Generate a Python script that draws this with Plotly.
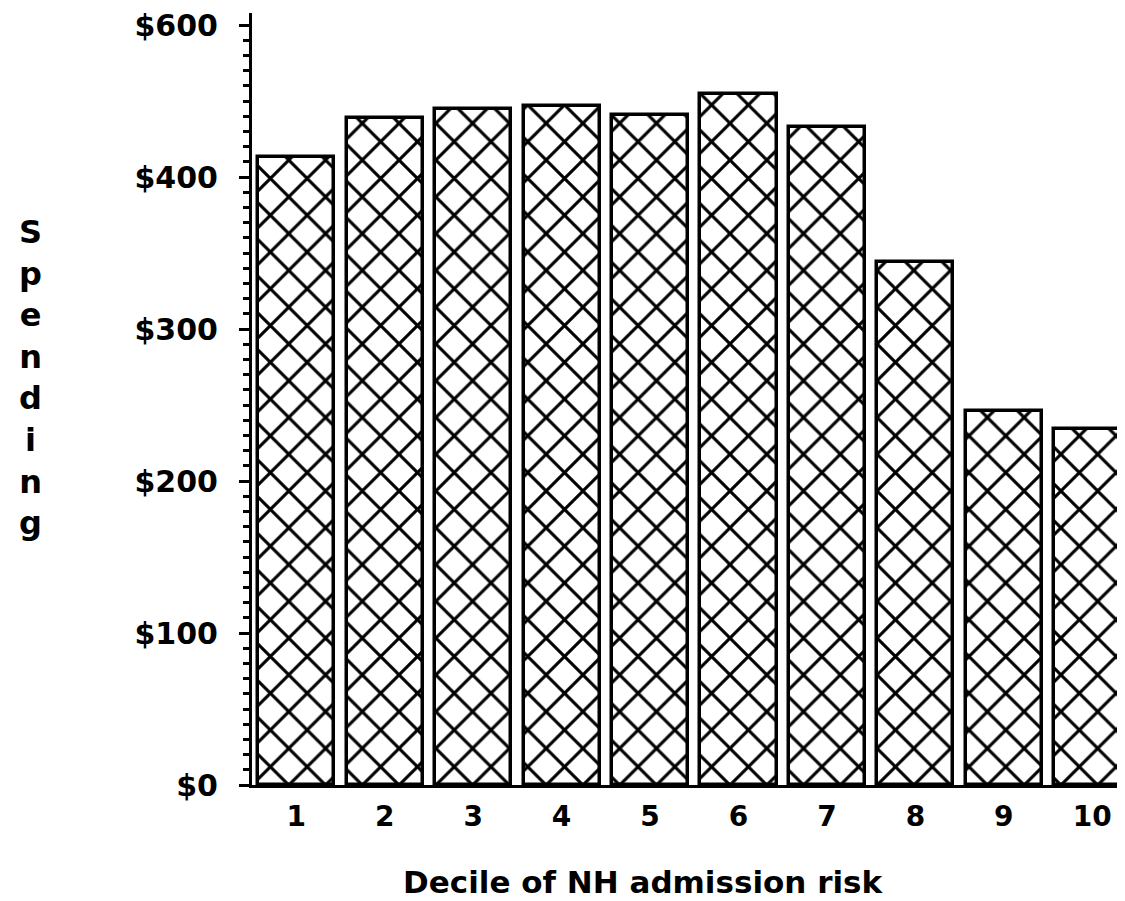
import plotly.graph_objects as go

deciles = [1, 2, 3, 4, 5, 6, 7, 8, 9, 10]
decile_labels = ["1", "2", "3", "4", "5", "6", "7", "8", "9", "10"]
spending = [413, 439, 445, 447, 441, 455, 433, 344, 246, 234]
ytick_vals = [0, 100, 200, 300, 400, 500]
ytick_text = ["$0", "$100", "$200", "$300", "$400", "$600"]

FONT = "DejaVu Sans"

fig = go.Figure()
fig.add_trace(go.Bar(
    x=deciles, y=spending, width=0.86,
    marker=dict(color="white",
                line=dict(color="black", width=3.5),
                pattern=dict(shape="x", fgcolor="black", bgcolor="white",
                             fgopacity=1, size=26, solidity=0.22)),
))

fig.update_layout(
    width=1117, height=893,
    margin=dict(l=244, r=0, t=0, b=116),
    paper_bgcolor="white", plot_bgcolor="white",
    showlegend=False,
    bargap=0,
    font=dict(family=FONT, color="black"),
    xaxis=dict(range=[0.5, 10.37], tickvals=deciles, ticktext=decile_labels,
               showline=True, linecolor="black", linewidth=3,
               ticks="", showgrid=False, zeroline=False,
               tickfont=dict(size=28, family=FONT, weight="bold"),
               ticklabelstandoff=4, ticklabeloverflow="allow"),
    yaxis=dict(range=[0, 508], tickvals=ytick_vals, ticktext=ytick_text,
               showline=True, linecolor="black", linewidth=3,
               ticks="outside", ticklen=10, tickwidth=3, tickcolor="black",
               minor=dict(dtick=10, ticks="outside", ticklen=6, tickwidth=3,
                          tickcolor="black", showgrid=False),
               showgrid=False, zeroline=False,
               tickfont=dict(size=30, family=FONT, weight="bold"),
               ticklabelstandoff=15, ticklabeloverflow="allow"),
)

fig.add_annotation(
    text="S<br>p<br>e<br>n<br>d<br>i<br>n<br>g",
    xref="paper", yref="paper", x=-0.254, y=0.528,
    xanchor="center", yanchor="middle", showarrow=False,
    font=dict(size=32, family=FONT, weight="bold", color="black"),
)
fig.add_annotation(
    text="Decile of NH admission risk",
    xref="paper", yref="paper", x=0.449, y=-0.126,
    xanchor="center", yanchor="middle", showarrow=False,
    font=dict(size=31, family=FONT, weight="bold", color="black"),
)

fig.write_html("out.html")
